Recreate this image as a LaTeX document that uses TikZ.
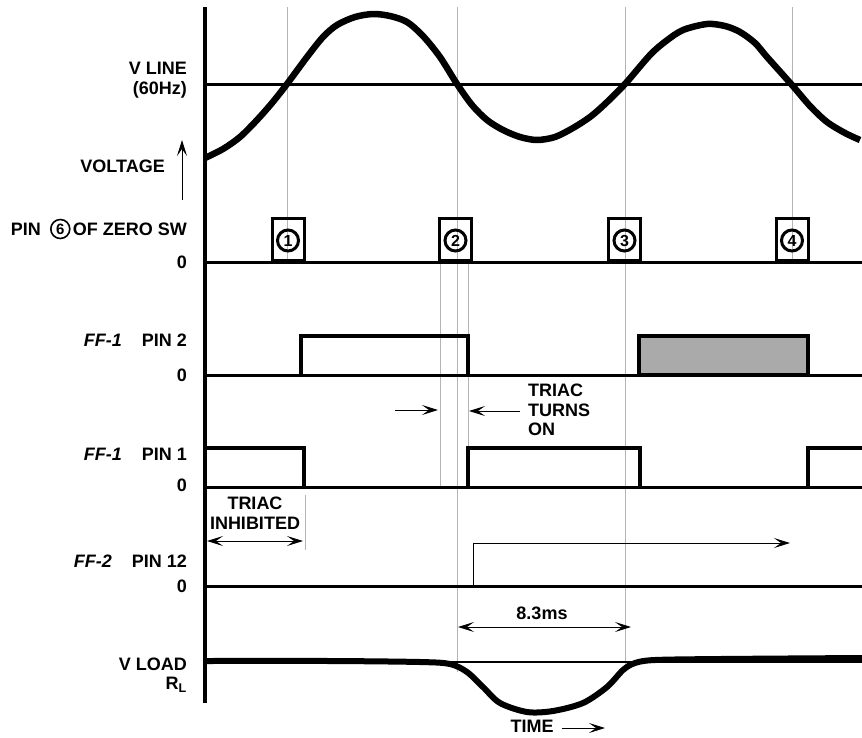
\documentclass[tikz,border=0pt]{standalone}
\usepackage{fontspec}
\setmainfont{Liberation Sans}
\usepackage{xcolor}
\usetikzlibrary{arrows.meta,positioning}
\definecolor{guidec}{HTML}{B4B4B4}
\definecolor{fillc}{HTML}{AAAAAA}
\tikzset{
  axis/.style={line width=3.5pt},
  base/.style={line width=3pt},
  wave/.style={line width=6.5pt,line join=round},
  pulse/.style={line width=3.5pt},
  guide/.style={line width=1pt,guidec},
  ar/.style={line width=1pt,-{Stealth[length=16pt,width=10pt,inset=7pt]}},
  dim/.style={line width=1pt,{Stealth[length=16pt,width=10pt,inset=7pt]}-{Stealth[length=16pt,width=10pt,inset=7pt]}},
  lbl/.style={anchor=east,inner sep=0pt},
  numbox/.style={draw,line width=3pt,minimum width=32pt,minimum height=42pt,anchor=south,inner sep=0pt},
  cnum/.style={circle,draw,line width=3pt,inner sep=0pt,minimum size=21pt,font=\fontsize{16}{16}\selectfont\bfseries}
}

\begin{document}
\begin{tikzpicture}[x=1pt,y=-1pt,every node/.style={font=\fontsize{18}{19.5}\selectfont\bfseries}]
\useasboundingbox (0,0) rectangle (862,737);
\draw[guide] (287,7) -- (287,262);
\draw[guide] (440,262) -- (440,488);
\draw[guide] (457,7) -- (457,672);
\draw[guide] (468,262) -- (468,448);
\draw[guide] (625,7) -- (625,667);
\draw[guide] (792,7) -- (792,262);
\draw[guide] (305,495) -- (305,550);

\draw[base] (205,84) -- (862,84);
\draw[wave] plot[smooth] coordinates {(205,158) (223,149) (240,137) (257,120) (272,103) (287,84) (307,57) (323,37) (337,25) (355,17) (373,14) (390,16) (407,22) (423,36) (440,57) (457,84) (472,105) (487,120) (503,130) (520,137) (537,140) (555,137) (573,128) (590,117) (605,104) (625,84) (650,55) (666,41) (683,30) (707,24) (725,26) (740,32) (755,43) (767,57) (792,85) (810,106) (827,122) (845,133) (860,140)};

\foreach \y in {262,375,487,586} \draw[base] (205,\y) -- (862,\y);
\foreach \x/\n in {288/1,455.5/2,624.5/3,792/4}{
  \node[numbox] (box\n) at (\x,262) {};
  \node[cnum] (num\n) at ([yshift=-1pt]box\n.center) {\n};
}

\draw[pulse] (301,375) -- (301,336) -- (468,336) -- (468,375);
\draw[pulse,fill=fillc] (639,375) rectangle (808,336);
\draw[pulse] (205,448) -- (304,448) -- (304,487);
\draw[pulse] (468,487) -- (468,448) -- (640,448) -- (640,487);
\draw[pulse] (808,487) -- (808,448) -- (862,448);

\coordinate (ffa) at (473,586);
\coordinate (ffb) at (473,543);
\coordinate (ffc) at (790,543);
\draw[ar] (ffa) -- (ffb) -- (ffc);

\draw[line width=2pt] (205,662) -- (862,662);
\draw[line width=6pt,line join=round] plot[smooth] coordinates {(205,661) (330,661) (420,662) (450,664) (467,672) (483,687) (500,703) (527,712) (553,711) (583,703) (607,687) (623,670) (635,663) (655,660) (720,659) (862,658)};

\draw[axis] (205,7) -- (205,703);

\node[lbl,align=right] (vline) at (187,80) {V LINE\\(60Hz)};
\node[lbl] (volt) at (165,166) {VOLTAGE};
\coordinate (va) at (182,200);
\coordinate (vb) at (182,140);
\draw[ar] (va) -- (vb);
\node[lbl] (zsw) at (187,229) {OF ZERO SW};
\node[cnum,minimum size=19pt,line width=1.6pt,font=\fontsize{15}{15}\selectfont\bfseries,left=2pt of zsw] (c6) {6};
\node[lbl,left=9pt of c6] (pin6) {PIN};
\node[lbl] (zero1) at (187,262) {0};

\node[lbl] (pin2) at (187,340) {PIN 2};
\node[lbl] (ff1a) at (122,340) {\itshape FF-1};
\node[lbl] (zero2) at (187,375) {0};

\node[lbl] (pin1) at (187,454) {PIN 1};
\node[lbl] (ff1b) at (122,454) {\itshape FF-1};
\node[lbl] (zero3) at (187,485) {0};

\node[lbl] (pin12) at (187,561) {PIN 12};
\node[lbl] (ff2) at (112,561) {\itshape FF-2};
\node[lbl] (zero4) at (187,586) {0};

\node[lbl] (vload) at (187,664) {V LOAD};
\node[lbl] (rl) at (187,685) {R\textsubscript{L}};

\node[anchor=west,align=left,inner sep=0pt] (triac) at (528,410) {TRIAC\\TURNS\\ON};
\coordinate (ta) at (395,410);
\coordinate (tb) at (438,410);
\coordinate (tc) at (520,411);
\coordinate (td) at (469,411);
\draw[ar] (ta) -- (tb);
\draw[ar] (tc) -- (td);

\node[align=center,inner sep=0pt] (inhib) at (255,513) {TRIAC\\INHIBITED};
\coordinate (ia) at (207,541);
\coordinate (ib) at (303,541);
\draw[dim] (ia) -- (ib);

\node[inner sep=0pt] (period) at (542,613) {8.3ms};
\coordinate (pa) at (458,627);
\coordinate (pb) at (631,627);
\draw[dim] (pa) -- (pb);

\node[inner sep=0pt] (time) at (532,726) {TIME};
\coordinate (tma) at (562,728);
\coordinate (tmb) at (605,728);
\draw[ar] (tma) -- (tmb);
\end{tikzpicture}
\end{document}
